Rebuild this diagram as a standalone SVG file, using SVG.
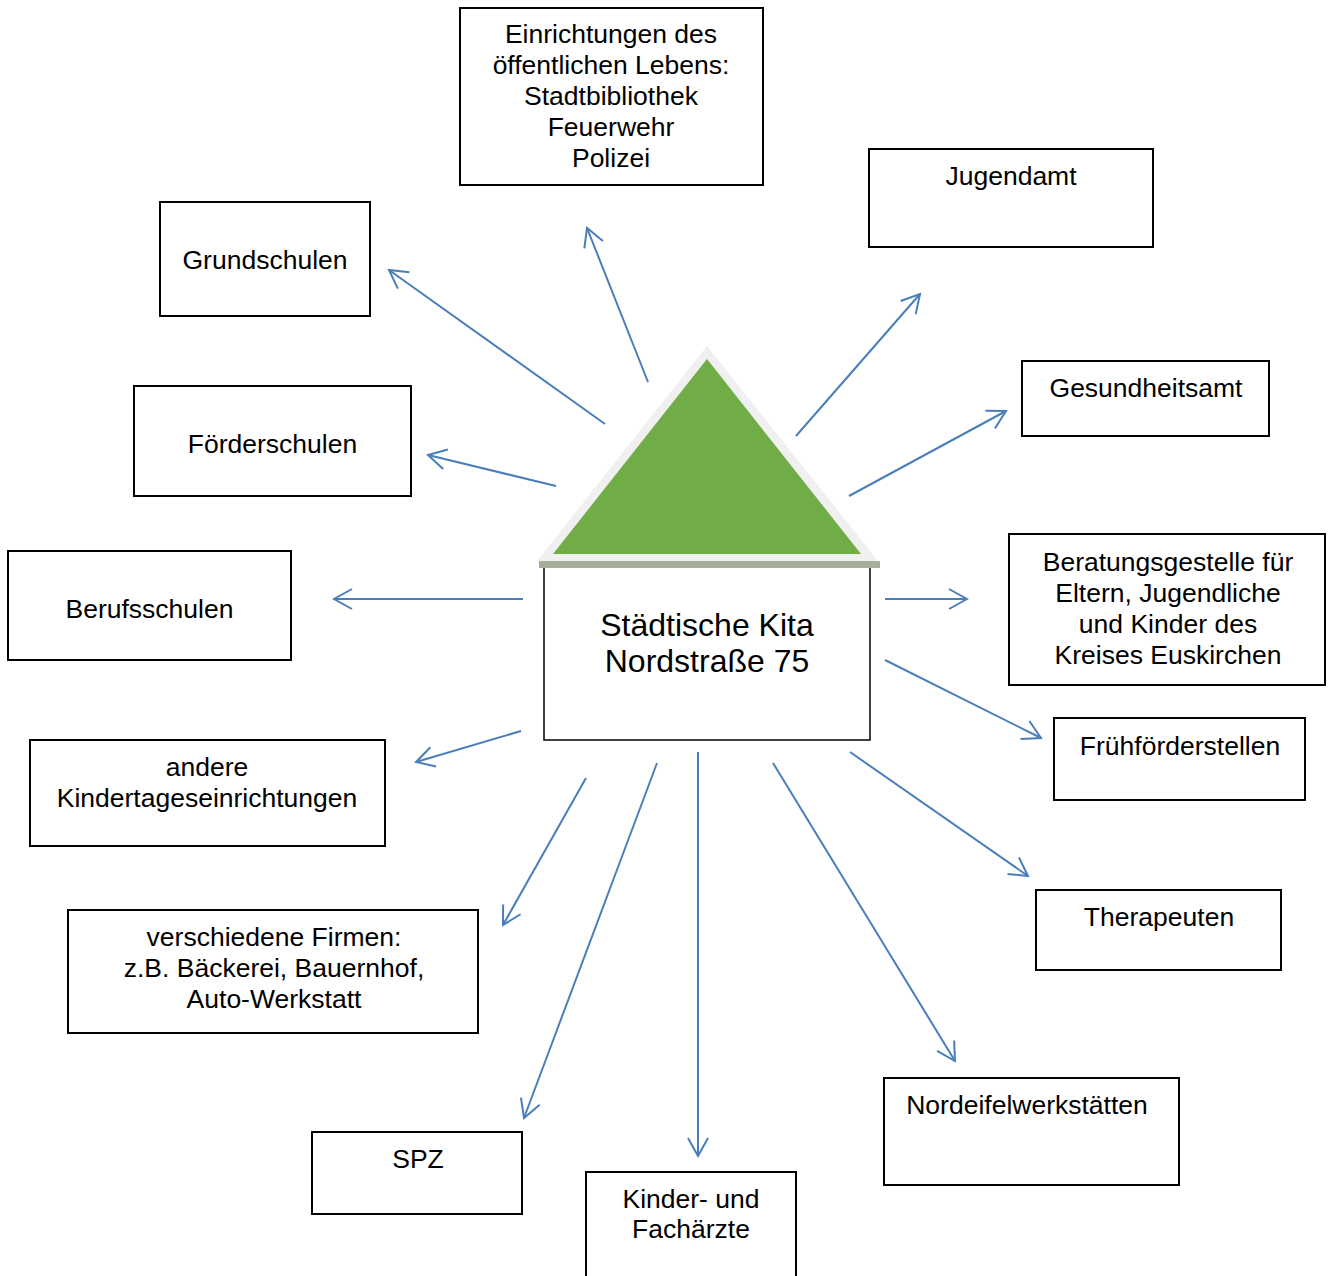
<svg xmlns="http://www.w3.org/2000/svg" width="1328" height="1276" viewBox="0 0 1328 1276">
<style>
.box{fill:#fff;stroke:#000;stroke-width:2}
.t{font-family:"Liberation Sans",Arial,sans-serif;font-size:26.5px;fill:#000;text-anchor:middle}
.big{font-size:32px}
.con line{stroke:#4a7ebb;stroke-width:2;marker-end:url(#ah)}
</style>
<defs>
<marker id="ah" markerUnits="userSpaceOnUse" viewBox="-21 -12 23 24" refX="0" refY="0" markerWidth="23" markerHeight="24" orient="auto">
<path d="M-18,-10 L0,0 L-18,10" fill="none" stroke="#4a7ebb" stroke-width="2"/>
</marker>
</defs>
<rect width="1328" height="1276" fill="#fff"/>

<g id="main">
<rect class="box" x="544" y="563" width="326" height="177" style="stroke-width:1.5"/>
<text class="t big" x="707" y="636">Städtische Kita</text>
<text class="t big" x="707" y="672">Nordstraße 75</text>
</g>
<g id="roof">
<rect x="539" y="561" width="341" height="7" fill="#a6af9a"/>
<polygon points="707,346 537,561 878,561" fill="#f0f0f0"/>
<polygon points="707,359 553,554 861,554" fill="#70ad47"/>
</g>

<g id="einrichtungen">
<rect class="box" x="460" y="8" width="303" height="177"/>
<text class="t" x="611" y="43">Einrichtungen des</text>
<text class="t" x="611" y="74">öffentlichen Lebens:</text>
<text class="t" x="611" y="105">Stadtbibliothek</text>
<text class="t" x="611" y="136">Feuerwehr</text>
<text class="t" x="611" y="167">Polizei</text>
</g>
<g id="jugendamt">
<rect class="box" x="869" y="149" width="284" height="98"/>
<text class="t" x="1011" y="185">Jugendamt</text>
</g>
<g id="grundschulen">
<rect class="box" x="160" y="202" width="210" height="114"/>
<text class="t" x="265" y="269">Grundschulen</text>
</g>
<g id="gesundheitsamt">
<rect class="box" x="1022" y="361" width="247" height="75"/>
<text class="t" x="1146" y="397">Gesundheitsamt</text>
</g>
<g id="foerderschulen">
<rect class="box" x="134" y="386" width="277" height="110"/>
<text class="t" x="272.5" y="453">Förderschulen</text>
</g>
<g id="berufsschulen">
<rect class="box" x="8" y="551" width="283" height="109"/>
<text class="t" x="149.5" y="618">Berufsschulen</text>
</g>
<g id="beratung">
<rect class="box" x="1009" y="534" width="316" height="151"/>
<text class="t" x="1168" y="570.5">Beratungsgestelle für</text>
<text class="t" x="1168" y="601.5">Eltern, Jugendliche</text>
<text class="t" x="1168" y="632.5">und Kinder des</text>
<text class="t" x="1168" y="663.5">Kreises Euskirchen</text>
</g>
<g id="fruehfoerder">
<rect class="box" x="1054" y="718" width="251" height="82"/>
<text class="t" x="1180" y="755">Frühförderstellen</text>
</g>
<g id="andere">
<rect class="box" x="30" y="740" width="355" height="106"/>
<text class="t" x="207" y="776">andere</text>
<text class="t" x="207" y="807">Kindertageseinrichtungen</text>
</g>
<g id="therapeuten">
<rect class="box" x="1036" y="890" width="245" height="80"/>
<text class="t" x="1159" y="926">Therapeuten</text>
</g>
<g id="firmen">
<rect class="box" x="68" y="910" width="410" height="123"/>
<text class="t" x="274" y="946">verschiedene Firmen:</text>
<text class="t" x="274" y="977">z.B. Bäckerei, Bauernhof,</text>
<text class="t" x="274" y="1008">Auto-Werkstatt</text>
</g>
<g id="nordeifel">
<rect class="box" x="884" y="1078" width="295" height="107"/>
<text class="t" x="1027" y="1114">Nordeifelwerkstätten</text>
</g>
<g id="spz">
<rect class="box" x="312" y="1132" width="210" height="82"/>
<text class="t" x="418" y="1168">SPZ</text>
</g>
<g id="aerzte">
<path d="M586,1282 V1172 H796 V1282" fill="#fff" stroke="#000" stroke-width="2"/>
<text class="t" x="691" y="1208">Kinder- und</text>
<text class="t" x="691" y="1238">Fachärzte</text>
</g>

<g class="con" id="connectors">
<line x1="648" y1="382" x2="587" y2="228"/>
<line x1="605" y1="424" x2="389" y2="270"/>
<line x1="556" y1="486" x2="428" y2="455"/>
<line x1="523" y1="599" x2="334" y2="599"/>
<line x1="521" y1="731" x2="416" y2="762"/>
<line x1="586" y1="778" x2="503" y2="925"/>
<line x1="657" y1="763" x2="524" y2="1118"/>
<line x1="698" y1="752" x2="698" y2="1156"/>
<line x1="773" y1="763" x2="955" y2="1061"/>
<line x1="850" y1="752" x2="1028" y2="876"/>
<line x1="885" y1="660" x2="1041" y2="738"/>
<line x1="885" y1="599" x2="967" y2="599"/>
<line x1="849" y1="496" x2="1006" y2="411"/>
<line x1="796" y1="436" x2="920" y2="294"/>
</g>
</svg>
